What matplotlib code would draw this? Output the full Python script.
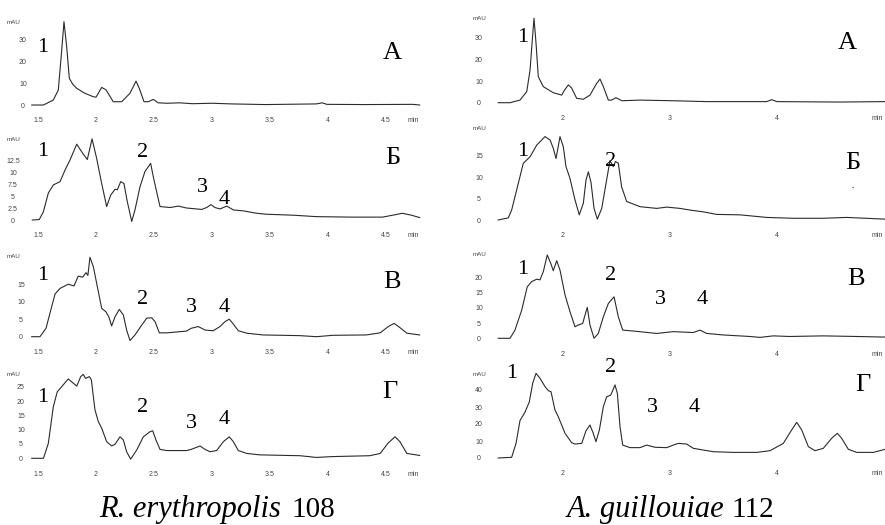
import matplotlib
matplotlib.use('Agg')
import matplotlib.pyplot as plt

W, H = 885, 525

# ---- R. erythropolis 108 (left column), time in min / signal in mAU ----
re_a_t = [1.446, 1.547, 1.632, 1.675, 1.704, 1.724, 1.747, 1.770, 1.800, 1.834, 1.900, 1.977, 2.000,
          2.049, 2.086, 2.149, 2.221, 2.293, 2.345, 2.373, 2.414, 2.451, 2.494, 2.537, 2.610, 2.720,
          2.830, 3.000, 3.170, 3.460, 3.900, 3.950, 3.990, 4.330, 4.730, 4.790]
re_a_v = [0, 0, 2.3, 6.9, 25, 38.4, 27, 12.3, 9.5, 7.7, 5.5, 3.8, 3.6,
          8.1, 7, 1.5, 1.5, 5.4, 11, 7.7, 1.5, 1.5, 2.6, 1.0, 0.8, 1.0,
          0.6, 0.8, 0.5, 0.2, 0.5, 1.0, 0.3, 0.2, 0.3, 0]

re_b_t = [1.451, 1.511, 1.546, 1.589, 1.632, 1.690, 1.733, 1.776, 1.834, 1.885, 1.925, 1.966, 2.006,
          2.049, 2.092, 2.127, 2.164, 2.184, 2.213, 2.241, 2.270, 2.308, 2.336, 2.379, 2.422, 2.471,
          2.500, 2.552, 2.640, 2.710, 2.780, 2.911, 2.954, 2.991, 3.025, 3.069, 3.127, 3.184, 3.270,
          3.385, 3.470, 3.700, 3.900, 4.200, 4.470, 4.580, 4.640, 4.720, 4.790]
re_b_v = [0, 0.1, 1.7, 5.6, 7.3, 8.0, 10.4, 12.5, 15.8, 13.9, 12.6, 16.9, 12.8,
          7.6, 2.8, 5.2, 6.4, 6.3, 8.0, 7.6, 3.8, -0.3, 2.1, 6.9, 10.1, 11.8,
          8.3, 2.8, 2.6, 2.9, 2.5, 2.2, 2.6, 3.2, 2.6, 2.3, 2.9, 2.1, 1.9,
          1.4, 1.2, 1.0, 0.7, 0.6, 0.6, 1.1, 1.4, 1.0, 0.5]

re_c_t = [1.446, 1.517, 1.569, 1.603, 1.647, 1.690, 1.761, 1.810, 1.847, 1.885, 1.914, 1.930, 1.948,
          1.977, 2.020, 2.049, 2.086, 2.110, 2.135, 2.164, 2.201, 2.236, 2.264, 2.293, 2.336, 2.394,
          2.437, 2.480, 2.509, 2.546, 2.610, 2.780, 2.820, 2.882, 2.940, 3.010, 3.069, 3.112, 3.149,
          3.184, 3.227, 3.300, 3.440, 3.760, 3.900, 4.040, 4.330, 4.450, 4.520, 4.570, 4.620, 4.680, 4.790]
re_c_v = [0, 0, 2.4, 6.7, 12.2, 13.8, 15.0, 14.5, 17.3, 17.0, 18.3, 17.5, 22.7,
          20, 12.9, 8.1, 7.1, 5.7, 3.1, 5.7, 7.8, 6.2, 1.9, -1.1, 0.5, 3.3,
          5.3, 5.4, 4.3, 1.1, 1.1, 1.6, 2.4, 2.9, 1.9, 1.7, 2.9, 4.3, 5.0,
          3.6, 1.7, 1.0, 0.5, 0.3, 0.0, 0.4, 0.5, 1.1, 2.9, 3.8, 2.6, 1.0, 0.5]

re_d_t = [1.446, 1.547, 1.589, 1.632, 1.666, 1.704, 1.761, 1.834, 1.868, 1.890, 1.910, 1.942, 1.960,
          1.991, 2.020, 2.049, 2.092, 2.135, 2.164, 2.207, 2.236, 2.264, 2.299, 2.351, 2.408, 2.466,
          2.489, 2.517, 2.552, 2.610, 2.780, 2.820, 2.897, 2.940, 2.983, 3.040, 3.098, 3.149, 3.184,
          3.227, 3.300, 3.410, 3.760, 3.900, 4.040, 4.360, 4.450, 4.520, 4.578, 4.620, 4.680, 4.790]
re_d_v = [0, 0, 5.2, 18, 23.2, 25, 27.7, 25.2, 28.5, 29.3, 27.9, 28.5, 27.4,
          16.9, 12.8, 10.5, 5.8, 4.3, 4.9, 7.5, 6.4, 2.3, -0.3, 2.9, 7.5, 9.3,
          9.6, 6.4, 3.1, 2.7, 2.7, 3.1, 4.3, 3.1, 2.3, 2.7, 5.8, 7.5, 5.8,
          2.7, 1.7, 1.2, 0.9, 0.3, 0.6, 0.9, 1.7, 5.4, 7.5, 5.8, 1.7, 1.0]

# ---- A. guillouiae 112 (right column) ----
ag_a_t = [1.395, 1.505, 1.598, 1.661, 1.692, 1.713, 1.729, 1.748, 1.769, 1.816, 1.909, 1.988, 2.010,
          2.050, 2.080, 2.128, 2.190, 2.252, 2.315, 2.346, 2.377, 2.424, 2.455, 2.495, 2.550, 2.720,
          3.030, 3.343, 3.904, 3.950, 4.000, 4.589, 5.010]
ag_a_v = [0, 0, 1.2, 5.1, 15, 28.9, 38.9, 27.4, 12, 7.4, 4.6, 3.5, 5.5,
          8.2, 6.8, 2.0, 1.6, 3.5, 8.9, 10.9, 7.4, 1.2, 1.2, 2.3, 0.9, 1.2,
          0.9, 0.5, 0.5, 1.4, 0.5, 0.3, 0.5]

ag_b_t = [1.395, 1.489, 1.520, 1.567, 1.629, 1.692, 1.754, 1.832, 1.879, 1.909, 1.935, 1.972, 2.003,
          2.028, 2.065, 2.112, 2.152, 2.190, 2.215, 2.237, 2.262, 2.290, 2.321, 2.362, 2.402, 2.439,
          2.470, 2.490, 2.517, 2.548, 2.595, 2.720, 2.876, 2.969, 3.093, 3.140, 3.218, 3.310, 3.436,
          3.654, 3.904, 4.150, 4.430, 4.650, 5.010]
ag_b_v = [0, 0.5, 2.3, 7.0, 13.2, 14.7, 17.4, 19.4, 18.6, 16.7, 14.3, 19.4, 17.0,
          12.4, 9.7, 4.7, 1.2, 3.9, 9.3, 11.2, 8.7, 2.7, 0.2, 2.7, 8.5, 13.8,
          12.4, 13.6, 13.2, 7.7, 4.3, 3.1, 2.7, 3.0, 2.7, 2.5, 2.2, 1.9, 1.3,
          1.2, 0.6, 0.4, 0.4, 0.6, 0.2]

ag_c_t = [1.395, 1.505, 1.551, 1.614, 1.666, 1.707, 1.754, 1.785, 1.816, 1.853, 1.885, 1.909, 1.941,
          1.972, 2.019, 2.065, 2.112, 2.143, 2.184, 2.206, 2.227, 2.252, 2.290, 2.330, 2.377, 2.424,
          2.477, 2.517, 2.558, 2.657, 2.876, 3.030, 3.218, 3.280, 3.343, 3.498, 3.748, 3.841, 3.965,
          4.120, 4.433, 4.744, 5.010]
ag_c_v = [0, 0, 2.7, 9.3, 17, 18.7, 19.5, 19.3, 22, 27.5, 24.8, 22.3, 25.6,
          22.5, 14.3, 8.8, 3.8, 4.4, 4.9, 7.7, 10.2, 4.4, 0, 1.6, 7.1, 11.5,
          13.7, 7.1, 2.7, 2.4, 1.6, 2.2, 1.9, 2.7, 1.6, 1.1, 0.6, 0.3, 0.8,
          0.6, 0.8, 0.6, 0.4]

ag_d_t = [1.395, 1.520, 1.561, 1.598, 1.645, 1.685, 1.717, 1.748, 1.785, 1.832, 1.863, 1.888, 1.925,
          1.956, 2.019, 2.081, 2.112, 2.175, 2.215, 2.252, 2.283, 2.308, 2.340, 2.377, 2.408, 2.446,
          2.464, 2.486, 2.508, 2.533, 2.558, 2.626, 2.720, 2.782, 2.860, 2.969, 3.030, 3.078, 3.156,
          3.218, 3.310, 3.405, 3.592, 3.810, 3.935, 4.059, 4.137, 4.184, 4.231, 4.293, 4.355, 4.433,
          4.511, 4.564, 4.604, 4.667, 4.745, 4.900, 5.010]
ag_d_v = [0, 0.4, 8.6, 22, 27, 33, 44, 49.8, 46.9, 42, 39.6, 39, 28.2,
          24.3, 14.5, 9.0, 8.2, 8.6, 16, 19.4, 14.5, 9.6, 16.5, 30.2, 36, 37,
          39.6, 43, 38, 18.4, 7.6, 6.1, 6.1, 7.6, 6.3, 6.1, 7.6, 8.6, 8.2,
          5.7, 4.7, 3.7, 3.3, 3.3, 4.3, 8.6, 16.5, 21, 16.5, 6.7, 4.3, 5.7,
          11.6, 14.5, 11.6, 5.1, 3.3, 3.3, 5.1]

# tick labels
left_xticks = [1.5, 2, 2.5, 3, 3.5, 4, 4.5]
left_xlabels = ['1.5', '2', '2.5', '3', '3.5', '4', '4.5']
right_xticks = [2, 3, 4]
right_xlabels = ['2', '3', '4']
yt_a = [0, 10, 20, 30]
yt_b_left = [0, 2.5, 5, 7.5, 10, 12.5]
yt_c_left = [0, 5, 10, 15]
yt_d_left = [0, 5, 10, 15, 20, 25]
yt_b_right = [0, 5, 10, 15]
yt_c_right = [0, 5, 10, 15, 20]
yt_d_right = [0, 10, 20, 30, 40]

panel_letters = ['А', 'Б', 'В', 'Г']
species = ['R. erythropolis', 'A. guillouiae']
strains = ['108', '112']

fig = plt.figure(figsize=(W / 100, H / 100), dpi=100)
fig.patch.set_facecolor('white')

SERIF = ['Liberation Serif', 'DejaVu Serif']
TICK_FONT = ['Liberation Sans', 'DejaVu Sans']


def fmt(v):
    return ('%g' % v)


def panel(t, v, col, y0, ppu, top, yticks, ycenter, mau_y):
    # col: (px of t=2, px per minute, left px, right px, min label px, xticks, xlabels, mAU x)
    t2, ppm, xl, xr, minpx, xticks, xlabels, maux = col
    yb = y0 + 4
    ax = fig.add_axes([xl / W, 1 - yb / H, (xr - xl) / W, (yb - top) / H])
    ax.patch.set_alpha(0)
    ax.set_xlim(2 + (xl - t2) / ppm, 2 + (xr - t2) / ppm)
    ax.set_ylim((y0 - yb) / ppu, (y0 - top) / ppu)
    ax.plot(t, v, color='#2b2b2b', lw=0.8)
    for s in ax.spines.values():
        s.set_visible(False)
    tmin = 2 + (minpx - t2) / ppm
    ax.set_xticks(list(xticks) + [tmin])
    ax.set_xticklabels(list(xlabels) + ['min'], family=TICK_FONT, fontsize=5, color='#444')
    ax.set_yticks(yticks)
    ax.set_yticklabels([fmt(y) for y in yticks], family=TICK_FONT, fontsize=5,
                       color='#444', ha='center')
    ax.tick_params(axis='x', length=0, pad=6)
    ax.tick_params(axis='y', length=0, pad=(xl - ycenter) * 0.72)
    fig.text(maux / W, 1 - mau_y / H, 'mAU', family=TICK_FONT, fontsize=4.5,
             color='#444', ha='center', va='center')
    return ax


left = (96, 116, 28, 428, 413, left_xticks, left_xlabels, 14)
right = (563, 107, 494, 885, 877, right_xticks, right_xlabels, 480)

panel(re_a_t, re_a_v, left, 105, 2.17, 16, yt_a, 23, 22)
panel(re_b_t, re_b_v, left, 220, 4.8, 135, yt_b_left, 13, 140)
panel(re_c_t, re_c_v, left, 336.7, 3.5, 250, yt_c_left, 21, 257)
panel(re_d_t, re_d_v, left, 458.3, 2.865, 368, yt_d_left, 21, 375)

panel(ag_a_t, ag_a_v, right, 102.7, 2.17, 14, yt_a, 479, 19)
panel(ag_b_t, ag_b_v, right, 220, 4.3, 124, yt_b_right, 479, 128)
panel(ag_c_t, ag_c_v, right, 338.3, 3.03, 250, yt_c_right, 479, 255)
panel(ag_d_t, ag_d_v, right, 458, 1.7, 368, yt_d_right, 479, 374)


def label(x, y, s, size=16):
    fig.text(x / W, 1 - y / H, s, family=SERIF, fontsize=size, ha='center', va='center')


# peak numbers
for x, y, s in [(43, 47, '1'),
                (43, 152, '1'), (143, 153, '2'), (202, 188, '3'), (224, 199, '4'),
                (43, 275, '1'), (143, 299, '2'), (191, 308, '3'), (224, 308, '4'),
                (43, 398, '1'), (143, 407, '2'), (191, 423, '3'), (224, 420, '4'),
                (523, 37, '1'),
                (523, 152, '1'), (611, 162, '2'),
                (523, 270, '1'), (611, 276, '2'), (660, 299, '3'), (702, 299, '4'),
                (512, 373, '1'), (611, 367, '2'), (652, 407, '3'), (694, 407, '4')]:
    label(x, y, s)

# panel letters
for x, y, s in [(392, 53, panel_letters[0]), (393, 158, panel_letters[1]),
                (392, 282, panel_letters[2]), (390, 392, panel_letters[3]),
                (847, 43, panel_letters[0]), (853, 163, panel_letters[1]),
                (856, 279, panel_letters[2]), (863, 385, panel_letters[3])]:
    label(x, y, s, size=19)

# stray dot under Б on the right
fig.text(853 / W, 1 - 188 / H, '-', family=TICK_FONT, fontsize=5, ha='center', va='center')

# captions
fig.text(281 / W, 1 - 517 / H, species[0], family=SERIF, style='italic',
         fontsize=22, ha='right', va='baseline')
fig.text(291 / W, 1 - 517 / H, strains[0], family=SERIF, fontsize=21,
         ha='left', va='baseline')
fig.text(724 / W, 1 - 517 / H, species[1], family=SERIF, style='italic',
         fontsize=22, ha='right', va='baseline')
fig.text(731 / W, 1 - 517 / H, strains[1], family=SERIF, fontsize=21,
         ha='left', va='baseline')

fig.savefig('out.png', dpi=100)
